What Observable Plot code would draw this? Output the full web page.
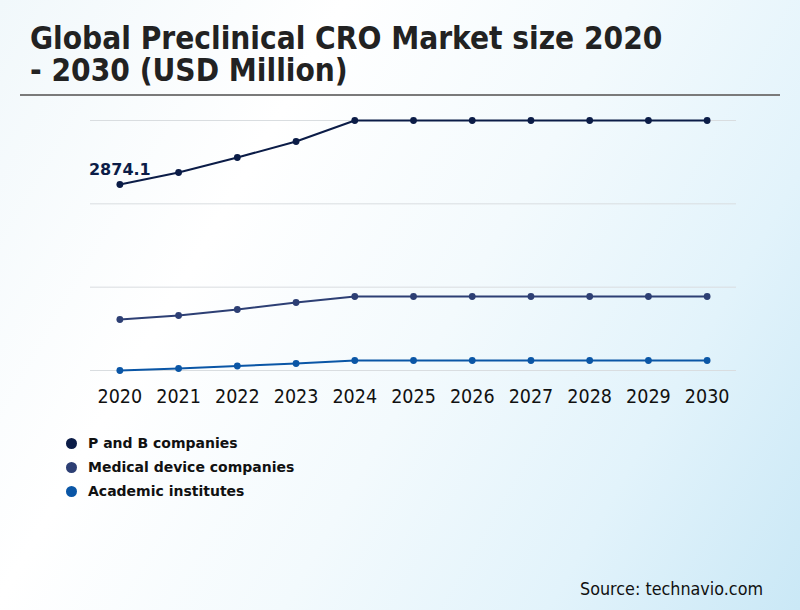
<!DOCTYPE html>
<html>
<head>
<meta charset="utf-8">
<script src="https://cdn.jsdelivr.net/npm/d3@7"></script>
<script src="https://cdn.jsdelivr.net/npm/@observablehq/plot@0.6"></script>
<style>
  html, body { margin: 0; padding: 0; }
  body {
    width: 800px; height: 610px; position: relative; overflow: hidden;
    font-family: "DejaVu Sans", sans-serif;
    background: linear-gradient(120deg, #f1f8fb 0%, #ffffff 30%, #f3fafd 55%, #e2f3fb 78%, #cae8f6 100%);
  }
  .cond { font-family: "DejaVu Sans Condensed", "DejaVu Sans", sans-serif; font-stretch: condensed; }
  #title {
    position: absolute; left: 30px; top: 23px; margin: 0;
    font-weight: bold; font-size: 31.3px; line-height: 31.5px; color: #222;
  }
  #rule { position: absolute; left: 20px; top: 94px; width: 760px; height: 2px; background: #7a7a7a; }
  #chart { position: absolute; left: 0; top: 100px; }
  #legend { position: absolute; left: 66px; top: 431px; font: bold 14px "DejaVu Sans", sans-serif; color: #111; }
  #legend div { height: 24px; display: flex; align-items: center; }
  #legend span.dot { display: inline-block; width: 11px; height: 11px; border-radius: 50%; margin-right: 11px; }
  #source { position: absolute; right: 37px; top: 578px; font-size: 17.8px; color: #111; }
</style>
</head>
<body>
<div id="title" class="cond">Global Preclinical CRO Market size 2020<br>- 2030 (USD Million)</div>
<div id="rule"></div>
<div id="chart"></div>
<div id="legend"></div>
<div id="source" class="cond">Source: technavio.com</div>
<script>
const years = ["2020","2021","2022","2023","2024","2025","2026","2027","2028","2029","2030"];
const seriesNames = ["P and B companies", "Medical device companies", "Academic institutes"];
const pbValues      = [2874.1, 3018, 3198, 3390, 3642, 3642, 3642, 3642, 3642, 3642, 3642];
const medicalValues = [1254, 1302, 1374, 1458, 1530, 1530, 1530, 1530, 1530, 1530, 1530];
const academicValues = [642, 666, 696, 726, 762, 762, 762, 762, 762, 762, 762];
const seriesColors = ["#0b1c47", "#2d3f74", "#0a56a6"];
const gridTicks = [642, 1642, 2642, 3642];
const labelText = "2874.1";

const allSeries = [pbValues, medicalValues, academicValues];
const data = [];
allSeries.forEach((vals, si) => vals.forEach((v, i) => data.push({year: years[i], value: v, series: seriesNames[si]})));

const chart = Plot.plot({
  width: 800,
  height: 320,
  marginLeft: 90,
  marginRight: 64,
  marginTop: 20,
  marginBottom: 50,
  style: {background: "transparent", fontFamily: "DejaVu Sans, sans-serif"},
  x: {type: "point", domain: years, padding: 0.5, round: false, label: null},
  y: {domain: [gridTicks[0], gridTicks[gridTicks.length - 1]], axis: null},
  color: {domain: seriesNames, range: seriesColors},
  marks: [
    Plot.gridY(gridTicks, {stroke: "#d9dde0", strokeOpacity: 1, strokeWidth: 1}),
    Plot.axisX({tickSize: 0, tickPadding: 19, fontSize: 19.5, fill: "#111", label: null,
      fontFamily: "DejaVu Sans Condensed, DejaVu Sans, sans-serif", fontStretch: "condensed"}),
    Plot.line(data, {x: "year", y: "value", z: "series", stroke: "series", strokeWidth: 2}),
    Plot.dot(data, {x: "year", y: "value", fill: "series", r: 3.4}),
    Plot.text([{year: years[0], value: pbValues[0]}], {x: "year", y: "value", text: () => labelText, dy: -15, fontSize: 16, fontWeight: "bold", fill: seriesColors[0]})
  ]
});
document.getElementById("chart").appendChild(chart);

const legend = document.getElementById("legend");
seriesNames.forEach((n, i) => {
  const row = document.createElement("div");
  row.innerHTML = `<span class="dot" style="background:${seriesColors[i]}"></span>${n}`;
  legend.appendChild(row);
});
</script>
</body>
</html>
